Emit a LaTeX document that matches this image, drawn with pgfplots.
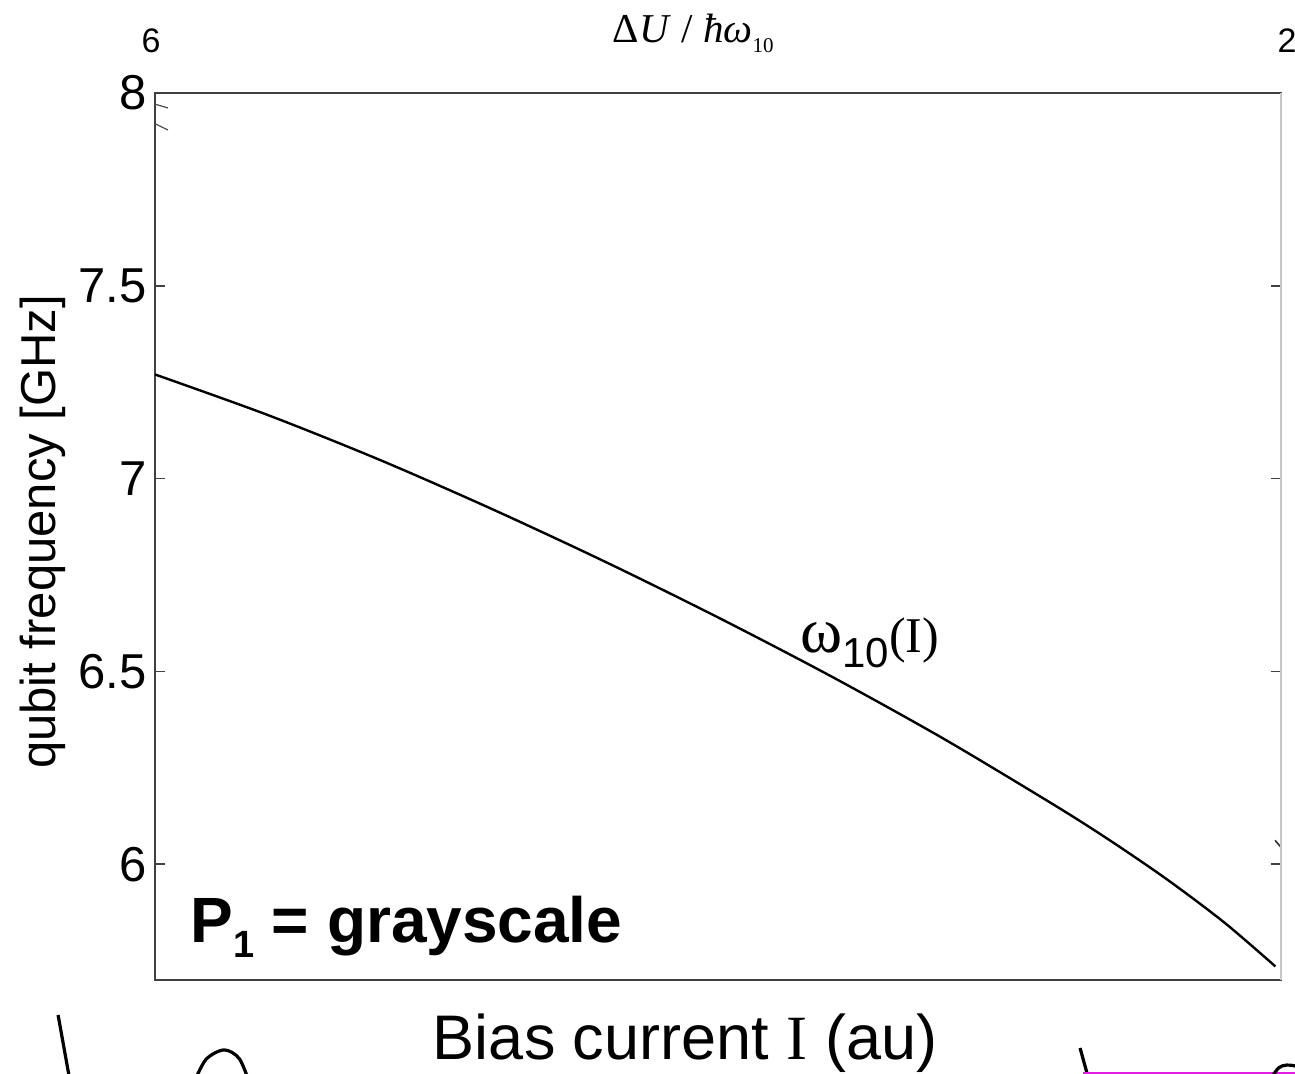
\documentclass[border=0pt]{standalone}
\usepackage{fontspec}
\setmainfont{Liberation Sans}
\newfontfamily\serif{Liberation Serif}
\usepackage{pgfplots}
\pgfplotsset{compat=1.18}
\definecolor{sketchmag}{RGB}{225,30,225}
\begin{document}
\begin{tikzpicture}
\begin{axis}[
  scale only axis, width=563pt, height=443.5pt,
  xmin=0, xmax=1, ymin=5.7, ymax=8,
  xtick=\empty,
  ytick={6,6.5,7,7.5,8},
  ytick pos=both, tick align=inside,
  major tick length=5pt,
  tick style={color=black!75, line width=0.8pt},
  axis line style={color=black!75, line width=1pt},
  clip=false,
  /pgf/number format/assume math mode=true,
  yticklabel style={font=\fontsize{24.5}{24.5}\selectfont, inner sep=0pt, xshift=-4pt},
]
% main transition curve omega_10(I)
\addplot[black, line width=1.2pt, smooth] coordinates {
  (0,7.27) (0.1,7.165) (0.2,7.048) (0.3,6.920) (0.4,6.784) (0.5,6.640)
  (0.6,6.488) (0.7,6.326) (0.8,6.151) (0.85,6.058) (0.9,5.958) (0.95,5.848) (0.995,5.735)};
% small faint traces
\addplot[black!70, line width=0.6pt] coordinates {(0,7.971) (0.0115,7.961)};
\addplot[black!70, line width=0.6pt] coordinates {(0,7.920) (0.0115,7.904)};
\addplot[black!80, line width=0.8pt] coordinates {(0.9947,6.062) (1,6.044)};

\draw[color=black!22, line width=1.3pt] (rel axis cs:1,0) -- (rel axis cs:1,1);

\node[anchor=base west, inner sep=0] at (rel axis cs:0.031,0.0417)
  {\fontsize{32}{32}\selectfont\bfseries P\raisebox{-7.5pt}{\fontsize{19}{19}\selectfont 1} = grayscale};
\node[anchor=base west, inner sep=0] at (rel axis cs:0.5728,0.3687)
  {{\serif\fontsize{32}{32}\selectfont ω}\raisebox{-7.5pt}{\fontsize{21}{21}\selectfont 10}{\serif\fontsize{25}{25}\selectfont (I)}};
\node[anchor=base, inner sep=0] at (rel axis cs:0.4707,-0.0902)
  {\fontsize{31.5}{31.5}\selectfont Bias current {\serif I} (au)};
\node[rotate=90, anchor=base, inner sep=0] at (rel axis cs:-0.0888,0.505)
  {\fontsize{24.5}{24.5}\selectfont qubit frequency [GHz]};
\node[anchor=base, inner sep=0] at (rel axis cs:-0.0036,1.0451) {\fontsize{17}{17}\selectfont 6};
\node[anchor=base, inner sep=0] at (rel axis cs:1.0053,1.0451) {\fontsize{17}{17}\selectfont 2};
\node[anchor=base, inner sep=0] at (rel axis cs:0.478,1.0564)
  {\serif\fontsize{20.5}{20.5}\selectfont Δ\textit{U} / \textit{ħω}\raisebox{-5pt}{\fontsize{10.5}{10.5}\selectfont 10}};

% hand-drawn sketches at the bottom (cut off)
\draw[black, line width=1.6pt] (rel axis cs:-0.0861,-0.0395) -- (rel axis cs:-0.0740,-0.125);
\draw[black, line width=1.6pt] plot[smooth] coordinates {(rel axis cs:0.0330,-0.120) (rel axis cs:0.0450,-0.090) (rel axis cs:0.0613,-0.0789) (rel axis cs:0.0750,-0.089) (rel axis cs:0.0850,-0.120)};
\draw[black, line width=1.6pt] (rel axis cs:0.8215,-0.0767) -- (rel axis cs:0.8320,-0.125);
\draw[sketchmag, line width=1.2pt] (rel axis cs:0.8240,-0.1052) -- (rel axis cs:1.03,-0.1052);
\draw[black, line width=1.6pt] plot[smooth] coordinates {(rel axis cs:0.9850,-0.125) (rel axis cs:0.9980,-0.099) (rel axis cs:1.0124,-0.097) (rel axis cs:1.03,-0.110)};

\coordinate (bl) at (rel axis cs:-0.1377,-0.1060);
\coordinate (tr) at (rel axis cs:1.0124,1.1048);
\end{axis}
\pgfresetboundingbox
\path[use as bounding box] (bl) rectangle (tr);
\end{tikzpicture}
\end{document}
